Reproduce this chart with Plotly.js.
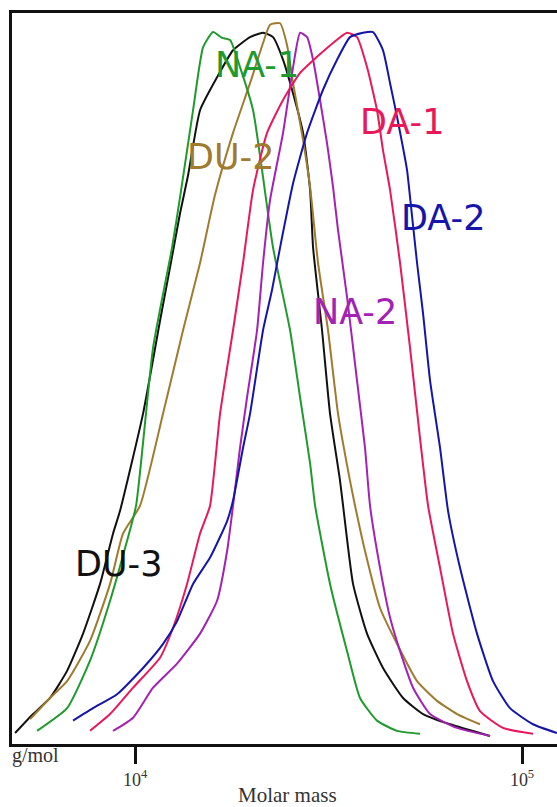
<!DOCTYPE html>
<html>
<head>
<meta charset="utf-8">
<script src="https://cdn.plot.ly/plotly-3.0.1.min.js"></script>
<style>html,body{margin:0;padding:0;background:#fff;}#chart{width:557px;height:807px;}</style>
</head>
<body>
<div id="chart"></div>
<script>
// Molar mass (g/mol) and normalised detector signal for each sample
const NA1_M = [5582,6673,7649,8619,9535,10060,11130,12462,13070,14122,14987,15906,16784,17604,18674,20183,21290,22730,25154,26698,28336,29191,31906,35311,38139,42200,47530,54510];
const NA1_W = [0.018,0.049,0.114,0.196,0.278,0.326,0.542,0.679,0.748,0.867,0.953,0.974,0.966,0.963,0.926,0.867,0.785,0.679,0.566,0.474,0.384,0.326,0.219,0.127,0.063,0.032,0.018,0.014];

const DU3_M = [4897,5451,6031,6673,7339,8120,8774,9146,10488,11602,12315,13070,13708,14723,16290,17914,19826,21416,22730,24125,25608,27178,28336,28845,30424,31906,33866,34480,36585,39760,43733,49270,55490,65160,82660];
const DU3_W = [0.015,0.041,0.063,0.100,0.151,0.219,0.288,0.319,0.452,0.579,0.652,0.726,0.778,0.867,0.912,0.949,0.967,0.973,0.967,0.936,0.890,0.836,0.758,0.679,0.566,0.452,0.360,0.326,0.219,0.151,0.104,0.063,0.041,0.027,0.011];

const DU2_M = [5355,6031,6673,7649,8619,9311,10301,11814,13305,14723,16090,17914,19826,21416,22327,23697,24707,25608,27178,28336,29708,31528,33460,35938,37025,39288,42962,47530,53550,60320,67920,77890];
const DU2_W = [0.034,0.063,0.086,0.141,0.219,0.288,0.326,0.452,0.566,0.658,0.751,0.836,0.904,0.959,0.984,0.986,0.956,0.904,0.826,0.762,0.658,0.566,0.452,0.360,0.326,0.264,0.186,0.137,0.086,0.059,0.041,0.027];

const NA2_M = [8774,9882,11130,12837,14723,16290,17294,17914,18674,19469,20666,21416,22327,24125,25608,26698,27832,28845,30062,31340,32480,33460,35311,37466,39288,40478,42962,45600,48400,52290,57860,67920,82660];
const NA2_W = [0.018,0.036,0.077,0.110,0.151,0.196,0.264,0.326,0.405,0.474,0.566,0.658,0.744,0.836,0.926,0.973,0.967,0.936,0.881,0.822,0.762,0.703,0.611,0.497,0.405,0.326,0.241,0.173,0.127,0.077,0.041,0.022,0.011];

const DA1_M = [7649,8619,9882,11602,12536,13626,14723,15624,16584,17914,19011,20183,21932,24125,26698,29531,32480,35311,37466,39760,42200,43733,45600,48400,51360,54510,57170,61400,66330,72090,77890,89310,106760];
const DA1_W = [0.018,0.041,0.077,0.118,0.159,0.219,0.288,0.326,0.452,0.566,0.658,0.758,0.836,0.881,0.918,0.940,0.959,0.973,0.967,0.926,0.867,0.812,0.758,0.658,0.542,0.418,0.326,0.241,0.151,0.086,0.045,0.022,0.014];

const DA2_M = [6915,7788,8985,10488,11814,12837,14122,15624,17294,17914,19011,19826,21416,22590,23697,25608,27832,30604,33266,35938,38823,41210,43733,45600,47530,50450,51360,53550,55490,57860,61400,64390,69150,76510,84150,93110,106760,123100];
const DA2_W = [0.032,0.049,0.068,0.104,0.137,0.168,0.219,0.255,0.305,0.333,0.405,0.452,0.566,0.621,0.679,0.767,0.836,0.895,0.936,0.967,0.973,0.974,0.949,0.904,0.858,0.785,0.748,0.658,0.589,0.497,0.405,0.319,0.241,0.151,0.086,0.049,0.027,0.015];

const SERIES_NAMES = ["DU-3","DU-2","NA-1","NA-2","DA-1","DA-2"];
const SERIES_COLORS = ["#111111","#a07a2e","#1f9a2d","#a321b3","#e8185a","#1515aa"];
const TICK_VALUES = [1e4, 1e5];
const TICK_TEXT = ["10<sup>4</sup>","10<sup>5</sup>"];
const X_TITLE = "Molar mass";
const UNIT_LABEL = "g/mol";

const xs = [DU3_M, DU2_M, NA1_M, NA2_M, DA1_M, DA2_M];
const ys = [DU3_W, DU2_W, NA1_W, NA2_W, DA1_W, DA2_W];

const traces = SERIES_NAMES.map((n, i) => ({
  type: "scatter", mode: "lines", name: n,
  x: xs[i], y: ys[i],
  line: {color: SERIES_COLORS[i], width: 2, shape: "spline", smoothing: 0.5},
  hoverinfo: "skip"
}));

// label positions (paper coords)
const labelPos = {
  "NA-1": [0.4495, 0.929],
  "DU-2": [0.400, 0.803],
  "DA-1": [0.7156, 0.851],
  "DA-2": [0.7908, 0.7196],
  "NA-2": [0.6294, 0.591],
  "DU-3": [0.1963, 0.2462]
};

const annotations = SERIES_NAMES.map((n, i) => ({
  text: n, xref: "paper", yref: "paper",
  x: labelPos[n][0], y: labelPos[n][1],
  xanchor: "center", yanchor: "middle", showarrow: false,
  font: {family: "DejaVu Sans", size: 35, color: SERIES_COLORS[i]}
}));
annotations.push({
  text: UNIT_LABEL, xref: "paper", yref: "paper", x: -0.004, y: -0.0164,
  xanchor: "left", yanchor: "middle", showarrow: false,
  font: {family: "Liberation Serif", size: 20, color: "#333"}
});
annotations.push({
  text: X_TITLE, xref: "paper", yref: "paper", x: 0.5046, y: -0.0698,
  xanchor: "center", yanchor: "middle", showarrow: false,
  font: {family: "Liberation Serif", size: 21, color: "#333"}
});

const layout = {
  width: 557, height: 807,
  margin: {l: 12, r: 0, t: 13, b: 63},
  paper_bgcolor: "#ffffff", plot_bgcolor: "#ffffff",
  showlegend: false,
  xaxis: {
    type: "log", range: [3.682, 5.0904],
    showgrid: false, zeroline: false,
    showline: true, mirror: true, linecolor: "#111", linewidth: 3,
    ticks: "outside", ticklen: 17, tickwidth: 3, tickcolor: "#111",
    tickvals: TICK_VALUES, ticktext: TICK_TEXT,
    tickfont: {family: "Liberation Serif", size: 18, color: "#333"}
  },
  yaxis: {
    range: [0, 1], showgrid: false, zeroline: false,
    showline: true, linecolor: "#111", linewidth: 3,
    showticklabels: false, ticks: ""
  },
  annotations: annotations
};

Plotly.newPlot("chart", traces, layout, {staticPlot: true, displayModeBar: false});
</script>
</body>
</html>
